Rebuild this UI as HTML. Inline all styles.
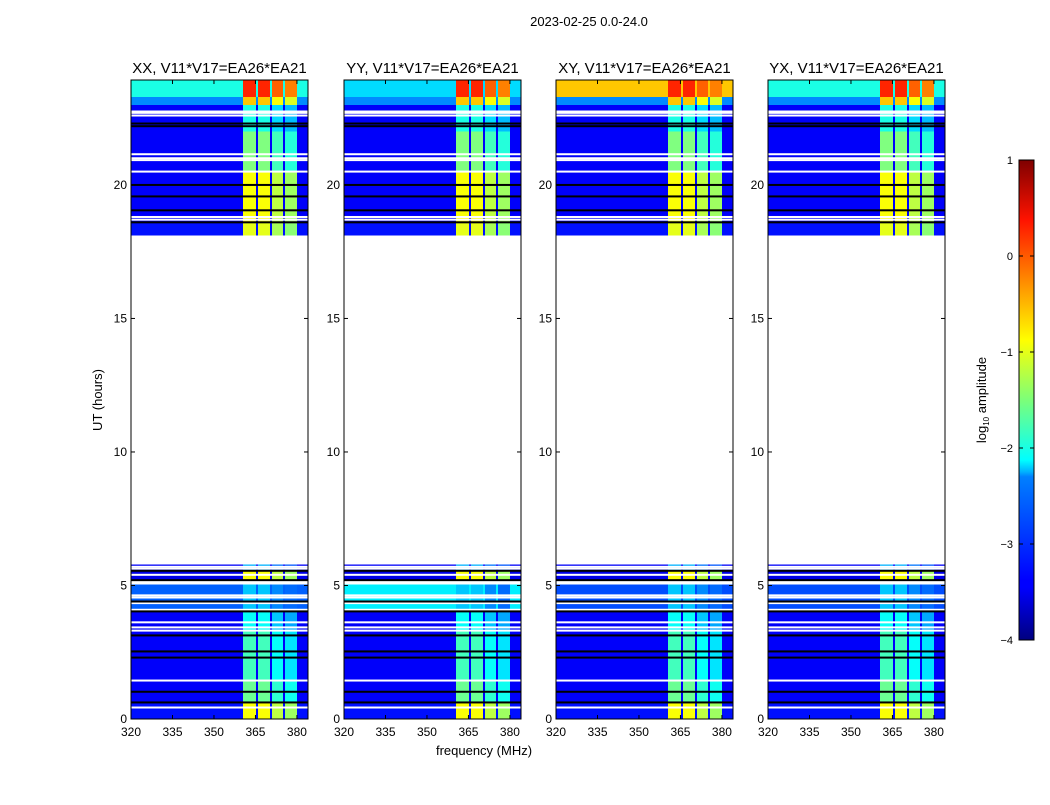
<!DOCTYPE html>
<html><head><meta charset="utf-8"><style>
body{margin:0;background:#fff;}
svg text{font-family:"Liberation Sans","DejaVu Sans",sans-serif;fill:#000;}
</style></head><body>
<svg id="fig" width="1050" height="800" viewBox="0 0 1050 800" xmlns="http://www.w3.org/2000/svg">
<defs>
<linearGradient id="jet" x1="0" y1="1" x2="0" y2="0">
<stop offset="0" stop-color="#00007f"/><stop offset="0.11" stop-color="#0000ff"/>
<stop offset="0.125" stop-color="#0000ff"/><stop offset="0.34" stop-color="#0080ff"/>
<stop offset="0.35" stop-color="#00b0ff"/><stop offset="0.375" stop-color="#00ffff"/>
<stop offset="0.5" stop-color="#7cff79"/><stop offset="0.625" stop-color="#ffff00"/>
<stop offset="0.875" stop-color="#ff1300"/><stop offset="1" stop-color="#7f0000"/>
</linearGradient>
</defs>
<text x="589" y="26" font-size="13" text-anchor="middle">2023-02-25 0.0-24.0</text>
<text x="0" y="0" font-size="13" text-anchor="middle" transform="translate(102,400) rotate(-90)">UT (hours)</text>
<text x="484" y="755" font-size="13" text-anchor="middle">frequency (MHz)</text>
<g id="panels"></g>
<g>
<rect x="1019" y="160" width="15" height="480" fill="url(#jet)" stroke="#000" stroke-width="1"/>
<g id="cbticks"></g>
<text x="0" y="0" font-size="13" text-anchor="middle" transform="translate(986,400) rotate(-90)">log<tspan font-size="8" dy="3">10</tspan><tspan dy="-3"> amplitude</tspan></text>
</g>
</svg>
<script>
const panelTitles=["XX, V11*V17=EA26*EA21","YY, V11*V17=EA26*EA21","XY, V11*V17=EA26*EA21","YX, V11*V17=EA26*EA21"];
const freqEdges=[320,360.5,365.2,365.9,370.2,371,374.9,375.7,380,384];
const colIsBand=[0,1,0,1,0,1,0,1,0];
const bandOffset=[0,0,0,0,0,-0.3,0,-0.45,0];
const rowStart=[0,0.62,1.44,3.3,4.03,5.03,5.2,5.57,5.78,18.1,18.6,20.5,22.0,23.0,23.3];
const rowEnd=[0.62,1.44,3.3,4.03,5.03,5.2,5.57,5.78,18.1,18.6,20.5,22.0,23.0,23.3,23.93];
const rowBg=[-3.3,-3.4,-3.4,-3.4,-2.9,null,-3.5,-3.4,null,-3.3,-3.4,-3.4,-3.4,-2.7,-2.0];
const rowBand=[-0.9,-1.6,-1.8,-2.1,-2.4,null,-0.9,-2.5,null,-1.0,-0.9,-1.5,-2.0,-0.6,0.2];
const panelTopBg=[-2.0,-2.3,-0.6,-2.0];
const panelMidBg=[-2.9,-2.2,-3.0,-3.0];
const whiteLines=[0.43,1.44,3.31,3.43,3.62,4.09,4.34,4.55,4.63,5.4,5.63,5.7,18.7,18.8,20.5,20.93,21.0,21.15,22.6,22.7,22.75];
const blackLines=[0.62,1.02,2.3,2.53,3.13,4.03,4.4,5.2,5.55,18.6,19.05,19.57,20.0,22.2,22.3];
const yTicks=[0,5,10,15,20];
const xTicks=[320,335,350,365,380];
const cbTicks=[1,0,-1,-2,-3,-4];

const panelLeft=[131,344,556,768], panelW=177, yTop=80, yBottom=719;
function xs(f,p){return panelLeft[p]+(f-320)*(panelW/(384-320));}
function ys(h){return yBottom-h*(yBottom-yTop)/23.93;}
function jet(v){
  let t=Math.max(0,Math.min(1,(v+4)/5));
  const r=Math.max(0,Math.min(1,1.5-Math.abs(4*t-3)));
  const g=Math.max(0,Math.min(1,1.5-Math.abs(4*t-2)));
  const b=Math.max(0,Math.min(1,1.5-Math.abs(4*t-1)));
  return `rgb(${Math.round(r*255)},${Math.round(g*255)},${Math.round(b*255)})`;
}
const NS="http://www.w3.org/2000/svg";
function mk(tag,attrs,parent){const e=document.createElementNS(NS,tag);for(const k in attrs)e.setAttribute(k,attrs[k]);parent.appendChild(e);return e;}
const G=document.getElementById('panels');
for(let p=0;p<4;p++){
  const g=mk('g',{},G);
  
  
  const L=panelLeft[p];
  for(let r=0;r<rowStart.length;r++){
    if(rowBg[r]===null)continue;
    let bg=rowBg[r];
    if(r===rowStart.length-1)bg=panelTopBg[p];
    if(r===4)bg=panelMidBg[p];
    for(let c=0;c<colIsBand.length;c++){
      const v=colIsBand[c]?rowBand[r]+bandOffset[c]:bg;
      const x0=xs(freqEdges[c],p),x1=xs(freqEdges[c+1],p);
      const y0=ys(rowEnd[r]),y1=ys(rowStart[r]);
      const cell=mk('rect',{x:x0,y:y0,width:x1-x0,height:y1-y0,fill:jet(v),'shape-rendering':'crispEdges'},g);
      
      
    }
  }
  for(const h of whiteLines){
    const l=mk('rect',{x:L,y:ys(h)-1,width:panelW,height:2,fill:'#fff'},g);
    
    
  }
  for(const h of blackLines){
    const l=mk('rect',{x:L,y:ys(h)-1,width:panelW,height:2,fill:'#000'},g);
    
    
  }
  const fr=mk('rect',{x:L,y:yTop,width:panelW,height:yBottom-yTop,fill:'none',stroke:'#000','stroke-width':1},g);
  
  
  const t=mk('text',{x:L+panelW/2,y:73,'font-size':15,'text-anchor':'middle'},g);
  t.textContent=panelTitles[p];
  
  
  for(const h of yTicks){
    const y=ys(h);
    mk('line',{x1:L,x2:L+4,y1:y,y2:y,stroke:'#000'},g);
    mk('line',{x1:L+panelW-4,x2:L+panelW,y1:y,y2:y,stroke:'#000'},g);
    const tl=mk('text',{x:L-4,y:y+4,'font-size':12,'text-anchor':'end'},g);
    tl.textContent=h;
    
    
  }
  for(const f of xTicks){
    const x=xs(f,p);
    mk('line',{x1:x,x2:x,y1:yBottom,y2:yBottom-4,stroke:'#000'},g);
    mk('line',{x1:x,x2:x,y1:yTop,y2:yTop+4,stroke:'#000'},g);
    const tl=mk('text',{x:x,y:736,'font-size':12,'text-anchor':'middle'},g);
    tl.textContent=f;
    
    
  }
}
const CB=document.getElementById('cbticks');
for(const v of cbTicks){
  const y=160+(1-v)*96;
  mk('line',{x1:1019,x2:1023,y1:y,y2:y,stroke:'#000'},CB);
  mk('line',{x1:1030,x2:1034,y1:y,y2:y,stroke:'#000'},CB);
  const tl=mk('text',{x:1013,y:y+4,'font-size':11,'text-anchor':'end'},CB);
  tl.textContent=v<0?'\u2212'+(-v):String(v);
  
  
}
</script>
</body></html>
